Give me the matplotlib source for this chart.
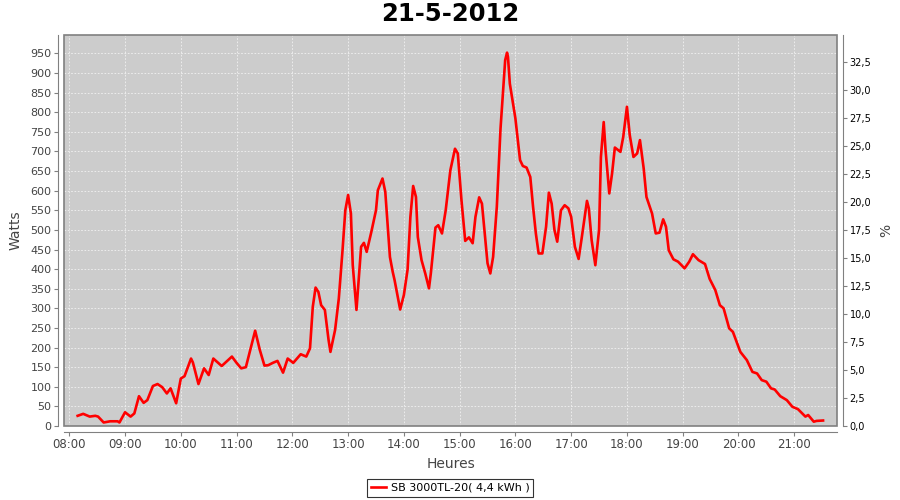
import matplotlib
matplotlib.use("Agg")
import matplotlib.pyplot as plt
import matplotlib.dates as mdates
from matplotlib.patches import Rectangle
from matplotlib.ticker import MultipleLocator, FuncFormatter
import pandas as pd

# readings of the day (time, watts)
times = ["08:09", "08:15", "08:22", "08:28", "08:31", "08:37", "08:44", "08:52", "08:54", "09:00",
         "09:06", "09:10", "09:15", "09:20", "09:24", "09:30", "09:35", "09:40", "09:45", "09:49",
         "09:55", "10:00", "10:04", "10:11", "10:13", "10:19", "10:25", "10:30", "10:35", "10:44",
         "10:55", "11:00", "11:05", "11:10", "11:20", "11:25", "11:30", "11:34", "11:39", "11:44",
         "11:50", "11:55", "12:01", "12:09", "12:15", "12:19", "12:22", "12:25", "12:28", "12:31",
         "12:35", "12:39", "12:41", "12:46", "12:50", "12:54", "12:57", "13:00", "13:03", "13:05",
         "13:09", "13:14", "13:17", "13:20", "13:25", "13:30", "13:32", "13:37", "13:40", "13:45",
         "13:48", "13:50", "13:56", "14:00", "14:04", "14:07", "14:10", "14:13", "14:15", "14:19",
         "14:23", "14:27", "14:29", "14:34", "14:37", "14:41", "14:45", "14:50", "14:55", "14:58",
         "15:02", "15:06", "15:10", "15:14", "15:17", "15:21", "15:24", "15:27", "15:30", "15:33",
         "15:36", "15:40", "15:44", "15:49", "15:51", "15:52", "15:54", "16:00", "16:05", "16:08",
         "16:12", "16:16", "16:19", "16:22", "16:25", "16:29", "16:33", "16:36", "16:39", "16:42",
         "16:45", "16:49", "16:53", "16:57", "17:00", "17:04", "17:08", "17:11", "17:17", "17:19",
         "17:22", "17:26", "17:30", "17:32", "17:35", "17:37", "17:41", "17:44", "17:47", "17:53",
         "17:56", "18:00", "18:03", "18:07", "18:11", "18:14", "18:18", "18:21", "18:27", "18:31",
         "18:35", "18:39", "18:42", "18:45", "18:50", "18:55", "19:02", "19:07", "19:11", "19:17",
         "19:24", "19:29", "19:35", "19:40", "19:44", "19:50", "19:54", "20:02", "20:09", "20:15",
         "20:20", "20:25", "20:30", "20:35", "20:39", "20:45", "20:52", "20:58", "21:04", "21:12",
         "21:15", "21:21", "21:24", "21:31"]
watts = [26, 31, 24, 26, 24, 9, 12, 12, 9, 35,
         24, 32, 76, 59, 66, 102, 107, 99, 83, 96,
         58, 121, 127, 172, 162, 107, 147, 130, 172, 153,
         177, 161, 147, 150, 243, 194, 154, 155, 161, 166,
         136, 172, 161, 183, 177, 198, 304, 353, 342, 308,
         296, 219, 189, 245, 325, 448, 550, 589, 542, 410,
         296, 457, 467, 444, 495, 550, 601, 631, 597, 431,
         393, 372, 297, 334, 399, 533, 612, 584, 482, 423,
         389, 351, 389, 506, 512, 491, 550, 652, 707, 695,
         575, 472, 481, 466, 533, 583, 567, 491, 415, 389,
         431, 559, 759, 933, 952, 941, 873, 784, 678, 663,
         659, 635, 559, 491, 440, 440, 508, 595, 567, 500,
         470, 550, 563, 555, 533, 457, 426, 474, 574, 555,
         474, 410, 500, 686, 775, 703, 593, 644, 710, 699,
         737, 814, 742, 686, 695, 729, 657, 584, 542, 491,
         493, 527, 508, 448, 425, 419, 402, 419, 438, 423,
         413, 375, 347, 308, 300, 249, 240, 189, 168, 138,
         134, 117, 113, 96, 93, 76, 66, 49, 43, 24,
         28, 11, 13, 14]
series_name = "SB 3000TL-20( 4,4 kWh )"
title = "21-5-2012"

day = "2012-05-21 "
t = pd.to_datetime([day + s for s in times])

fig = plt.figure(figsize=(9, 5), dpi=100)
ax = fig.add_axes([64 / 900, 74 / 500, 773 / 900, 391 / 500])
ax.set_facecolor("#cccccc")

line, = ax.plot(t, watts, color="#ff0000", linewidth=1.9, label=series_name)

ax.set_xlim(pd.Timestamp(day + "07:54:20"), pd.Timestamp(day + "21:46:00"))
ax.set_ylim(0, 997)
ax.yaxis.set_major_locator(MultipleLocator(50))
ax.xaxis.set_major_locator(mdates.HourLocator())
ax.xaxis.set_major_formatter(mdates.DateFormatter("%H:%M"))

ax.grid(True, color="#f2f2f2", linestyle=(0, (2, 2)), linewidth=0.6)
ax.set_axisbelow(True)

ax.spines["top"].set_visible(False)
ax.spines["right"].set_visible(False)
for s in ["left", "bottom"]:
    ax.spines[s].set_position(("outward", 4))
    ax.spines[s].set_color("#808080")
ax.add_patch(Rectangle((0, 0), 1, 1, transform=ax.transAxes, fill=False,
                       edgecolor="#808080", linewidth=1.2, zorder=5, clip_on=False))

ax.tick_params(axis="both", colors="#808080", length=3, width=0.8)
ax.tick_params(axis="y", labelsize=8, labelcolor="#444444", pad=2)
ax.tick_params(axis="x", labelsize=8.5, labelcolor="#444444", pad=2)

ax.set_ylabel("Watts", fontsize=10, color="#444444", labelpad=6)
ax.set_xlabel("Heures", fontsize=10, color="#444444", labelpad=4)

ax2 = ax.twinx()
ax2.set_ylim(0, 34.94)
ax2.yaxis.set_major_locator(MultipleLocator(2.5))
ax2.yaxis.set_major_formatter(FuncFormatter(lambda v, p: f"{v:.1f}".replace(".", ",")))
for s in ["top", "left", "bottom"]:
    ax2.spines[s].set_visible(False)
ax2.spines["right"].set_position(("outward", 4))
ax2.spines["right"].set_color("#808080")
ax2.tick_params(axis="y", colors="#808080", labelcolor="black", labelsize=7, length=3, width=0.8, pad=2)
ax2.set_ylabel("%", fontsize=10, color="#444444", labelpad=6)

fig.suptitle(title, y=0.972, va="center", fontsize=17.5, fontweight="bold")

leg = fig.legend(handles=[line], loc="center", bbox_to_anchor=(0.5, 0.024), fontsize=8,
                 frameon=True, fancybox=False, edgecolor="black", handlelength=1.4,
                 handletextpad=0.4, borderpad=0.35, borderaxespad=0)
leg.get_frame().set_linewidth(0.8)

fig.savefig("out.png", dpi=100)
